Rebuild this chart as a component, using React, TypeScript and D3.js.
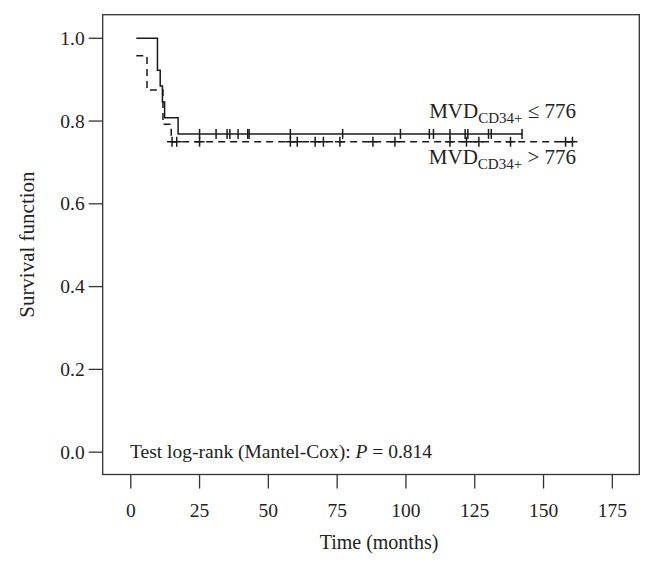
import React from "react"
import * as d3 from "d3"

// Kaplan-Meier curves
const solidTimes = [2, 9.7, 10.7, 11.5, 12.3, 17.2, 142.2]
const solidSurv = [1, 0.923, 0.885, 0.846, 0.808, 0.769, 0.769]
const solidCensored = [25, 31, 35, 36, 39, 42.5, 43, 58, 77, 98, 108.5, 110, 116, 121.5, 122.5, 130, 131, 142.2]

const dashedTimes = [2, 5.9, 11.7, 14.7, 161.8]
const dashedSurv = [0.958, 0.875, 0.792, 0.75, 0.75]
const dashedCensored = [15, 16.7, 25, 58, 60.5, 67, 70, 76, 88, 96, 116, 122, 126.5, 138, 158, 160.5]

const xTicks = [0, 25, 50, 75, 100, 125, 150, 175]
const yTicks = [0, 0.2, 0.4, 0.6, 0.8, 1.0]

const W = 654
const H = 564
const font = "'Liberation Serif', 'DejaVu Serif', serif"

export default function App() {
  const x = d3.scaleLinear().domain([-10.2, 184.8]).range([102.7, 639.3])
  const y = d3.scaleLinear().domain([-0.054, 1.057]).range([474.5, 14.7])

  const step = d3.line<[number, number]>()
    .x(d => x(d[0]))
    .y(d => y(d[1]))
    .curve(d3.curveStepAfter)

  const solidPts = solidTimes.map((t, i) => [t, solidSurv[i]] as [number, number])
  const dashedPts = dashedTimes.map((t, i) => [t, dashedSurv[i]] as [number, number])

  const survAt = (times: number[], surv: number[], t: number) => {
    let s = surv[0]
    for (let i = 0; i < times.length; i++) if (times[i] <= t) s = surv[i]
    return s
  }

  const [x0, x1] = x.range()
  const [y0, y1] = y.range()
  const stroke = "#1a1a1a"

  return (
    <svg width={W} height={H} style={{ position: "absolute", left: 0, top: 0 }} fontFamily={font}>
      <rect x={0} y={0} width={W} height={H} fill="white" />
      <rect x={x0} y={y1} width={x1 - x0} height={y0 - y1} fill="none" stroke="#333" strokeWidth={1.3} />

      {yTicks.map(t => (
        <g key={"y" + t}>
          <line x1={x0 - 14} x2={x0} y1={y(t)} y2={y(t)} stroke="#333" strokeWidth={1.3} />
          <text x={x0 - 18} y={y(t) + 6.5} textAnchor="end" fontSize={19.5} fill="#222">{t.toFixed(1)}</text>
        </g>
      ))}
      {xTicks.map(t => (
        <g key={"x" + t}>
          <line x1={x(t)} x2={x(t)} y1={y0} y2={y0 + 14} stroke="#333" strokeWidth={1.3} />
          <text x={x(t)} y={517} textAnchor="middle" fontSize={19.5} fill="#222">{t}</text>
        </g>
      ))}

      <text x={(x0 + x1) / 2 + 8} y={549} textAnchor="middle" fontSize={20} fill="#222">Time (months)</text>
      <text transform={`translate(34,${(y0 + y1) / 2}) rotate(-90)`} textAnchor="middle" fontSize={21} fill="#222">Survival function</text>

      <path d={step(solidPts) ?? ""} fill="none" stroke={stroke} strokeWidth={1.5} />
      <path d={step(dashedPts) ?? ""} fill="none" stroke={stroke} strokeWidth={1.5} strokeDasharray="7,5" />

      {solidCensored.map((t, i) => {
        const s = survAt(solidTimes, solidSurv, t)
        return <line key={"sc" + i} x1={x(t)} x2={x(t)} y1={y(s) - 5} y2={y(s) + 5} stroke={stroke} strokeWidth={1.5} />
      })}
      {dashedCensored.map((t, i) => {
        const s = survAt(dashedTimes, dashedSurv, t)
        return (
          <g key={"dc" + i}>
            <line x1={x(t)} x2={x(t)} y1={y(s) - 5} y2={y(s) + 5} stroke={stroke} strokeWidth={1.5} />
            <line x1={x(t) - 5} x2={x(t) + 5} y1={y(s)} y2={y(s)} stroke={stroke} strokeWidth={1.5} />
          </g>
        )
      })}

      <text x={576} y={118} textAnchor="end" fontSize={21} fill="#222">
        MVD<tspan fontSize={15} dy={5}>CD34+</tspan><tspan dy={-5}> ≤ 776</tspan>
      </text>
      <text x={576} y={164} textAnchor="end" fontSize={21} fill="#222">
        MVD<tspan fontSize={15} dy={5}>CD34+</tspan><tspan dy={-5}> &gt; 776</tspan>
      </text>

      <text x={130} y={458} fontSize={19.5} fill="#222">
        Test log-rank (Mantel-Cox): <tspan fontStyle="italic">P</tspan> = 0.814
      </text>
    </svg>
  )
}
